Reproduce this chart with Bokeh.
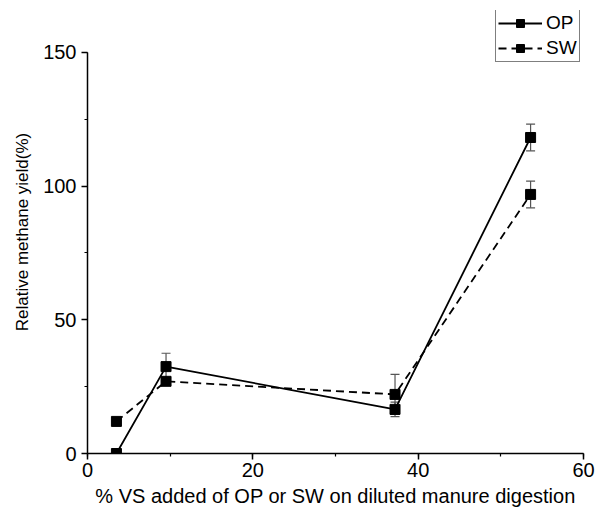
from bokeh.plotting import figure
from bokeh.models import (ColumnDataSource, Whisker, TeeHead, Legend, LegendItem,
                          SingleIntervalTicker, Range1d)
from bokeh.embed import file_html
from bokeh.resources import INLINE

# % VS added and relative methane yield (%)
op_x = [3.5, 9.5, 37.2, 53.6]
op_y = [0.0, 32.5, 16.5, 118.2]
op_err = [0.0, 5.0, 2.7, 5.0]

sw_x = [3.5, 9.5, 37.2, 53.6]
sw_y = [12.0, 27.0, 22.1, 96.9]
sw_err = [0.0, 0.0, 7.5, 5.0]

x_ticks_interval = 20
y_ticks_interval = 50

FONT = "Liberation Sans"

# frame leaves headroom above 150 for the legend; the y axis itself stops at 150
p = figure(width=595, height=523, output_backend="svg", toolbar_location=None,
           x_range=Range1d(0, 60), y_range=Range1d(0, 165.7),
           min_border_left=87, min_border_right=12, min_border_top=10,
           min_border_bottom=70)
p.outline_line_color = None
p.grid.visible = False
p.background_fill_color = "white"
p.border_fill_color = "white"

def err_src(xs, ys, es):
    return ColumnDataSource(dict(x=xs, lo=[y - e for y, e in zip(ys, es)],
                                 hi=[y + e for y, e in zip(ys, es)]))

for xs, ys, es in [(op_x, op_y, op_err), (sw_x, sw_y, sw_err)]:
    w = Whisker(source=err_src(xs, ys, es), base="x", lower="lo", upper="hi",
                line_color="#555555", line_width=1.2,
                upper_head=TeeHead(size=9, line_color="#555555", line_width=1.2),
                lower_head=TeeHead(size=9, line_color="#555555", line_width=1.2))
    p.add_layout(w)

op_line = p.line(op_x, op_y, line_color="black", line_width=1.8)
op_pts = p.scatter(op_x, op_y, marker="square", size=10, color="black")
sw_line = p.line(sw_x, sw_y, line_color="black", line_width=1.8, line_dash="8 5")
sw_pts = p.scatter(sw_x, sw_y, marker="square", size=10, color="black")

for ax, interval in [(p.xaxis[0], x_ticks_interval), (p.yaxis[0], y_ticks_interval)]:
    ax.ticker = SingleIntervalTicker(interval=interval, num_minor_ticks=2)
    ax.axis_line_width = 1.5
    ax.axis_line_color = "black"
    ax.major_tick_line_width = 1.5
    ax.minor_tick_line_width = 1.2
    ax.major_tick_out = 6
    ax.major_tick_in = 0
    ax.minor_tick_out = 3
    ax.minor_tick_in = 0
    ax.major_label_text_font = FONT
    ax.major_label_text_font_size = "20px"
    ax.major_label_text_color = "black"
    ax.axis_label_text_font = FONT
    ax.axis_label_text_font_style = "normal"
    ax.axis_label_text_color = "black"

p.yaxis.bounds = (0, 150)
p.xaxis.bounds = (0, 60)
p.xaxis.axis_label = "% VS added of OP or SW on diluted manure digestion"
p.yaxis.axis_label = "Relative methane yield(%)"
p.xaxis.axis_label_text_font_size = "20px"
p.yaxis.axis_label_text_font_size = "17px"
p.xaxis.major_label_standoff = 3
p.yaxis.major_label_standoff = 5
p.xaxis.axis_label_standoff = 5
p.yaxis.axis_label_standoff = 8

legend = Legend(items=[LegendItem(label="OP", renderers=[op_line, op_pts]),
                       LegendItem(label="SW", renderers=[sw_line, sw_pts])],
                location=(408, 391), orientation="vertical")
legend.border_line_color = "black"
legend.border_line_width = 1
legend.background_fill_alpha = 1
legend.label_text_font = FONT
legend.label_text_font_size = "19px"
legend.label_text_color = "black"
legend.glyph_width = 44
legend.glyph_height = 20
legend.label_standoff = 4
legend.spacing = 3
legend.padding = 2
legend.margin = 0
p.add_layout(legend, "center")

open("out.html", "w").write(file_html(p, INLINE))
